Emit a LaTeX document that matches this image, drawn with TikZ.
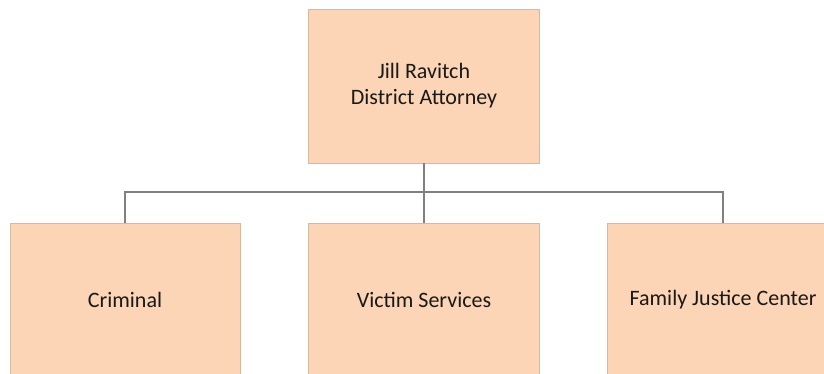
\documentclass[tikz,border=0pt]{standalone}
\usepackage{fontspec}
\setmainfont{Carlito}
\usetikzlibrary{calc, positioning}
\definecolor{boxfill}{RGB}{251,213,181}
\definecolor{boxline}{RGB}{214,186,160}
\definecolor{link}{RGB}{128,128,128}
\definecolor{ink}{RGB}{25,25,25}

\begin{document}
\begin{tikzpicture}[x=1pt, y=-1pt, font=\fontsize{22}{26}\selectfont,
  unit/.style={draw=boxline, line width=0.8pt, fill=boxfill, text=ink,
    minimum width=231pt, minimum height=154pt, align=center, inner sep=0pt},
  wire/.style={draw=link, line width=1.9pt}]
  \useasboundingbox (0,0) rectangle (824,373);

  % ---------- head of office ----------
  \node[unit] (da) at (424,86) {Jill Ravitch\\District Attorney};

  % ---------- divisions ----------
  \node[unit, minimum width=230pt] (crim) at (125,300) {Criminal};
  \node[unit] (victim) at (424,300) {Victim Services};
  \node[unit] (fjc)    at (723,300) {Family Justice Center};

  % ---------- connectors ----------
  \coordinate (bar) at ($(da.south)+(0,29)$);
  \draw[wire] (da.south) -- (bar);
  \draw[wire] (bar) -| (crim.north);
  \draw[wire] (bar) -| (fjc.north);
  \draw[wire] (bar) -- (victim.north);

\end{tikzpicture}
\end{document}
